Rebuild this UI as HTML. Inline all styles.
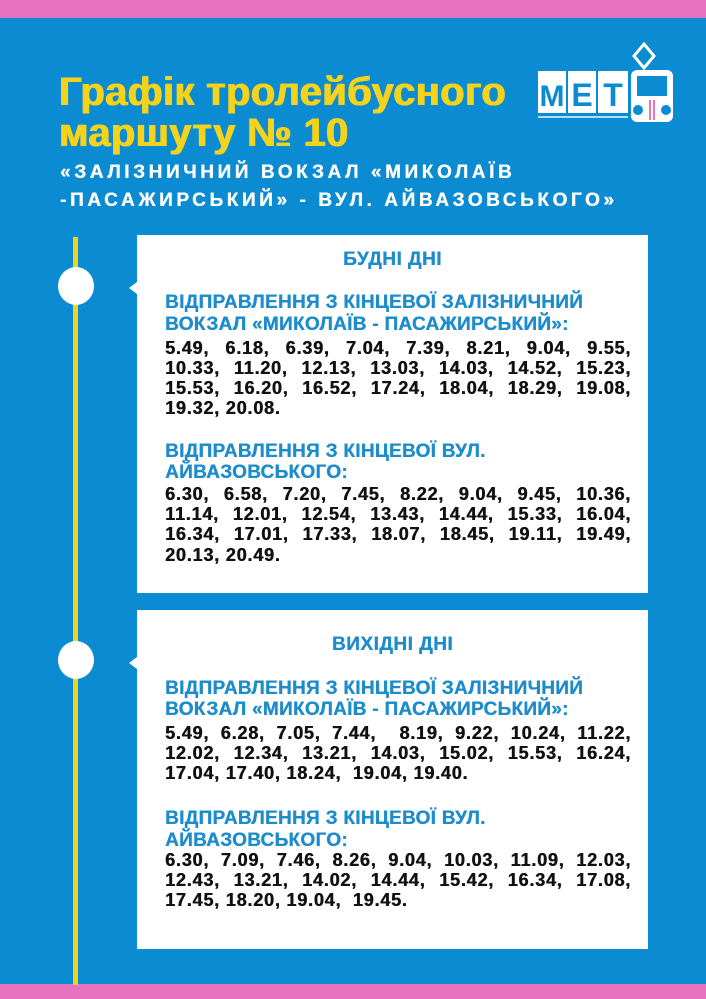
<!DOCTYPE html>
<html><head><meta charset="utf-8"><style>
*{margin:0;padding:0;box-sizing:border-box}
body{width:706px;height:999px;position:relative;overflow:hidden;background:#0a8bd2;font-family:"Liberation Sans","DejaVu Sans",sans-serif}
.a{position:absolute;white-space:nowrap}
.t{color:#f5d31c;font-weight:bold;font-size:40px;left:59px;letter-spacing:0.3px;text-shadow:0.6px 0 0 #f5d31c,-0.6px 0 0 #f5d31c}
.s{color:#fff;font-weight:bold;font-size:19px;left:60px;letter-spacing:3.6px;text-shadow:0.4px 0 0 #fff}
.card{position:absolute;left:137px;width:511px;background:#fff}
.h{color:#1d8ccc;font-weight:bold;font-size:19px;left:165px;letter-spacing:0.3px;text-shadow:0.4px 0 0 #1d8ccc}
.c{color:#1d8ccc;font-weight:bold;font-size:19px;left:137px;width:511px;text-align:center;letter-spacing:0.5px;text-shadow:0.4px 0 0 #1d8ccc}
.n{color:#111;font-weight:bold;font-size:18px;left:165px;width:466px;text-align:justify;text-align-last:justify;letter-spacing:0.8px;text-shadow:0.5px 0 0 #111}
.n.l{text-align-last:left;width:auto}
.dot{position:absolute;width:36px;height:38px;border-radius:50%;background:#fff;left:58px}
.tri{position:absolute;width:0;height:0;border-top:6px solid transparent;border-bottom:6px solid transparent;border-right:8px solid #fff;left:129px}
</style></head><body>
<div style="position:absolute;left:0;top:0;width:706px;height:18px;background:#e672c0"></div>
<div style="position:absolute;left:0;top:984px;width:706px;height:15px;background:#e672c0"></div>
<div style="position:absolute;left:73px;top:237px;width:5px;height:748px;background:#f0d520"></div>

<div class="a t" style="top:70px">Графік тролейбусного</div>
<div class="a t" style="top:111px">маршуту № 10</div>
<div class="a s" style="top:162px">«ЗАЛІЗНИЧНИЙ ВОКЗАЛ «МИКОЛАЇВ</div>
<div class="a s" style="top:190px">-ПАСАЖИРСЬКИЙ» - ВУЛ. АЙВАЗОВСЬКОГО»</div>

<svg style="position:absolute;left:536px;top:42px" width="140" height="90" viewBox="0 0 140 90">
<rect x="2" y="29" width="28" height="42" fill="#fff"/><rect x="32" y="29" width="28" height="42" fill="#fff"/><rect x="62" y="29" width="30" height="42" fill="#fff"/>
<text x="16" y="64" font-family="Liberation Sans" font-weight="bold" font-size="30" fill="#0a8bd2" text-anchor="middle">M</text>
<text x="46" y="64" font-family="Liberation Sans" font-weight="bold" font-size="32" fill="#0a8bd2" text-anchor="middle">E</text>
<text x="77" y="64" font-family="Liberation Sans" font-weight="bold" font-size="32" fill="#0a8bd2" text-anchor="middle">T</text>
<path d="M108 2 L118 14 L108 26 L98 14 Z" fill="none" stroke="#fff" stroke-width="3"/>
<rect x="95" y="28" width="42" height="52" rx="6" fill="#fff"/>
<rect x="101" y="34" width="30" height="20" fill="#0a8bd2"/>
<circle cx="102" cy="68" r="5" fill="#0a8bd2"/><circle cx="130" cy="68" r="5" fill="#0a8bd2"/>
<rect x="113" y="58" width="2" height="20" fill="#e672c0"/><rect x="117" y="58" width="2" height="20" fill="#e672c0"/>
<rect x="2" y="74" width="90" height="2" fill="#fff" opacity=".7"/>
</svg>

<div class="card" style="top:235px;height:358px"></div>
<div class="card" style="top:610px;height:339px"></div>
<div class="dot" style="top:267px"></div>
<div class="dot" style="top:641px"></div>
<div class="tri" style="top:282px"></div>
<div class="tri" style="top:657px"></div>

<div class="a c" style="top:249px">БУДНІ ДНІ</div>
<div class="a h" style="top:292px">ВІДПРАВЛЕННЯ З КІНЦЕВОЇ ЗАЛІЗНИЧНИЙ</div>
<div class="a h" style="top:314px">ВОКЗАЛ «МИКОЛАЇВ - ПАСАЖИРСЬКИЙ»:</div>
<div class="a n" style="top:338px">5.49, 6.18, 6.39, 7.04, 7.39, 8.21, 9.04, 9.55,</div>
<div class="a n" style="top:358px">10.33, 11.20, 12.13, 13.03, 14.03, 14.52, 15.23,</div>
<div class="a n" style="top:378px">15.53, 16.20, 16.52, 17.24, 18.04, 18.29, 19.08,</div>
<div class="a n l" style="top:398px">19.32, 20.08.</div>
<div class="a h" style="top:441px">ВІДПРАВЛЕННЯ З КІНЦЕВОЇ ВУЛ.</div>
<div class="a h" style="top:462px">АЙВАЗОВСЬКОГО:</div>
<div class="a n" style="top:484px">6.30, 6.58, 7.20, 7.45, 8.22, 9.04, 9.45, 10.36,</div>
<div class="a n" style="top:504px">11.14, 12.01, 12.54, 13.43, 14.44, 15.33, 16.04,</div>
<div class="a n" style="top:524px">16.34, 17.01, 17.33, 18.07, 18.45, 19.11, 19.49,</div>
<div class="a n l" style="top:545px">20.13, 20.49.</div>

<div class="a c" style="top:634px">ВИХІДНІ ДНІ</div>
<div class="a h" style="top:678px">ВІДПРАВЛЕННЯ З КІНЦЕВОЇ ЗАЛІЗНИЧНИЙ</div>
<div class="a h" style="top:699px">ВОКЗАЛ «МИКОЛАЇВ - ПАСАЖИРСЬКИЙ»:</div>
<div class="a n" style="top:723px">5.49, 6.28, 7.05, 7.44, &nbsp;8.19, 9.22, 10.24, 11.22,</div>
<div class="a n" style="top:743px">12.02, 12.34, 13.21, 14.03, 15.02, 15.53, 16.24,</div>
<div class="a n l" style="top:763px">17.04, 17.40, 18.24, &nbsp;19.04, 19.40.</div>
<div class="a h" style="top:808px">ВІДПРАВЛЕННЯ З КІНЦЕВОЇ ВУЛ.</div>
<div class="a h" style="top:830px">АЙВАЗОВСЬКОГО:</div>
<div class="a n" style="top:850px">6.30, 7.09, 7.46, 8.26, 9.04, 10.03, 11.09, 12.03,</div>
<div class="a n" style="top:870px">12.43, 13.21, 14.02, 14.44, 15.42, 16.34, 17.08,</div>
<div class="a n l" style="top:890px">17.45, 18.20, 19.04, &nbsp;19.45.</div>
</body></html>
